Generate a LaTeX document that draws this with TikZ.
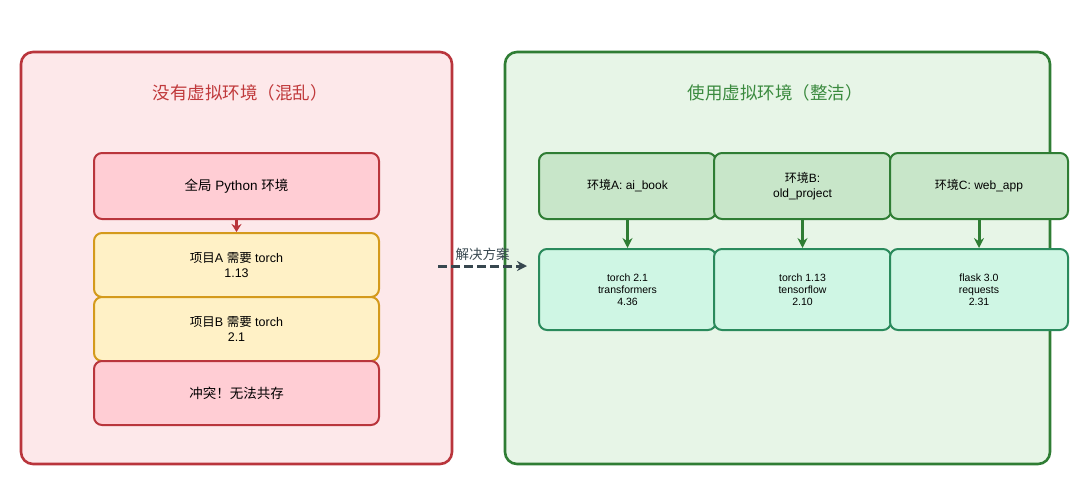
\documentclass[tikz,border=0pt]{standalone}
\usepackage{fontspec}
\setmainfont{Liberation Sans}
\newfontfamily\cjk{Noto Sans CJK SC}
\usetikzlibrary{arrows.meta}
\definecolor{redborder}{HTML}{B9353C}
\definecolor{redfill}{HTML}{FDE8EA}
\definecolor{pinkfill}{HTML}{FFCDD4}
\definecolor{yelfill}{HTML}{FFF1C6}
\definecolor{yelborder}{HTML}{D49A1C}
\definecolor{grnborder}{HTML}{2F7D34}
\definecolor{grnfill}{HTML}{E7F5E7}
\definecolor{envfill}{HTML}{C8E6C9}
\definecolor{pkgfill}{HTML}{CFF6E4}
\definecolor{pkgborder}{HTML}{2A8A5C}
\definecolor{redtitle}{HTML}{C0393B}
\definecolor{grntitle}{HTML}{3A8A3E}
\definecolor{dashcol}{HTML}{37474F}
\newcommand{\zh}[1]{{\cjk #1}}
\tikzset{
  outerbox/.style={draw, line width=2.6pt, rounded corners=12pt},
  inbox/.style={draw, line width=2pt, rounded corners=8pt, align=center, inner sep=0pt},
  leftred/.style={inbox, draw=redborder, fill=pinkfill, minimum width=285pt, minimum height=66pt, font=\fontsize{13.5}{16}\selectfont},
  leftyel/.style={inbox, draw=yelborder, fill=yelfill, minimum width=285pt, minimum height=64pt, font=\fontsize{12.5}{15}\selectfont},
  envbox/.style={inbox, draw=grnborder, fill=envfill, minimum width=177pt, minimum height=66pt, font=\fontsize{12}{14.5}\selectfont},
  pkgbox/.style={inbox, draw=pkgborder, fill=pkgfill, minimum width=177pt, minimum height=81pt, font=\fontsize{10.5}{12}\selectfont},
  titletext/.style={font=\cjk\fontsize{17.5}{20}\selectfont},
  arr/.style={-{Stealth[length=10pt,width=10pt]}, line width=3pt}
}
\begin{document}
\begin{tikzpicture}[x=1pt,y=-1pt]
\useasboundingbox (0,0) rectangle (1080,501);
\fill[white] (0,0) rectangle (1080,501);
% outer panels
\node[outerbox, draw=redborder, fill=redfill, minimum width=431pt, minimum height=412pt] (left) at (236.5,258) {};
\node[outerbox, draw=grnborder, fill=grnfill, minimum width=545pt, minimum height=412pt] (right) at (777.5,258) {};
\node[titletext, text=redtitle] (ltitle) at (240,93) {没有虚拟环境（混乱）};
\node[titletext, text=grntitle] (rtitle) at (775,93) {使用虚拟环境（整洁）};
% left stack
\node[leftred] (global) at (236.5,186) {\zh{全局} Python \zh{环境}};
\node[leftyel] (pa) at (236.5,265) {\zh{项目}A \zh{需要} torch\\1.13};
\node[leftyel] (pb) at (236.5,329) {\zh{项目}B \zh{需要} torch\\2.1};
\node[leftred, minimum height=64pt] (conflict) at (236.5,393) {\zh{冲突！无法共存}};
\draw[redborder, line width=2.6pt, -{Stealth[length=8pt,width=10pt]}] (global.south) -- (pa.north);
% right envs
\node[envbox] (ea) at (627.5,186) {\zh{环境}A: ai\_book};
\node[envbox] (eb) at (802.5,186) {\zh{环境}B:\\old\_project};
\node[envbox, minimum width=178pt] (ec) at (979,186) {\zh{环境}C: web\_app};
\node[pkgbox] (pka) at (627.5,289.5) {torch 2.1\\transformers\\4.36};
\node[pkgbox] (pkb) at (802.5,289.5) {torch 1.13\\tensorflow\\2.10};
\node[pkgbox, minimum width=178pt] (pkc) at (979,289.5) {flask 3.0\\requests\\2.31};
\draw[arr, grnborder] (ea.south) -- (pka.north);
\draw[arr, grnborder] (eb.south) -- (pkb.north);
\draw[arr, grnborder] (ec.south) -- (pkc.north);
% solution arrow
\coordinate (sfrom) at (438,266);
\coordinate (sto) at (527,266);
\draw[dashcol, line width=3pt, dash pattern=on 9pt off 4pt, -{Stealth[length=10pt,width=10pt]}] (sfrom) -- (sto)
  node[midway, above=1pt, text=dashcol, font=\cjk\fontsize{13.5}{15}\selectfont] (soltext) {解决方案};
\end{tikzpicture}
\end{document}
